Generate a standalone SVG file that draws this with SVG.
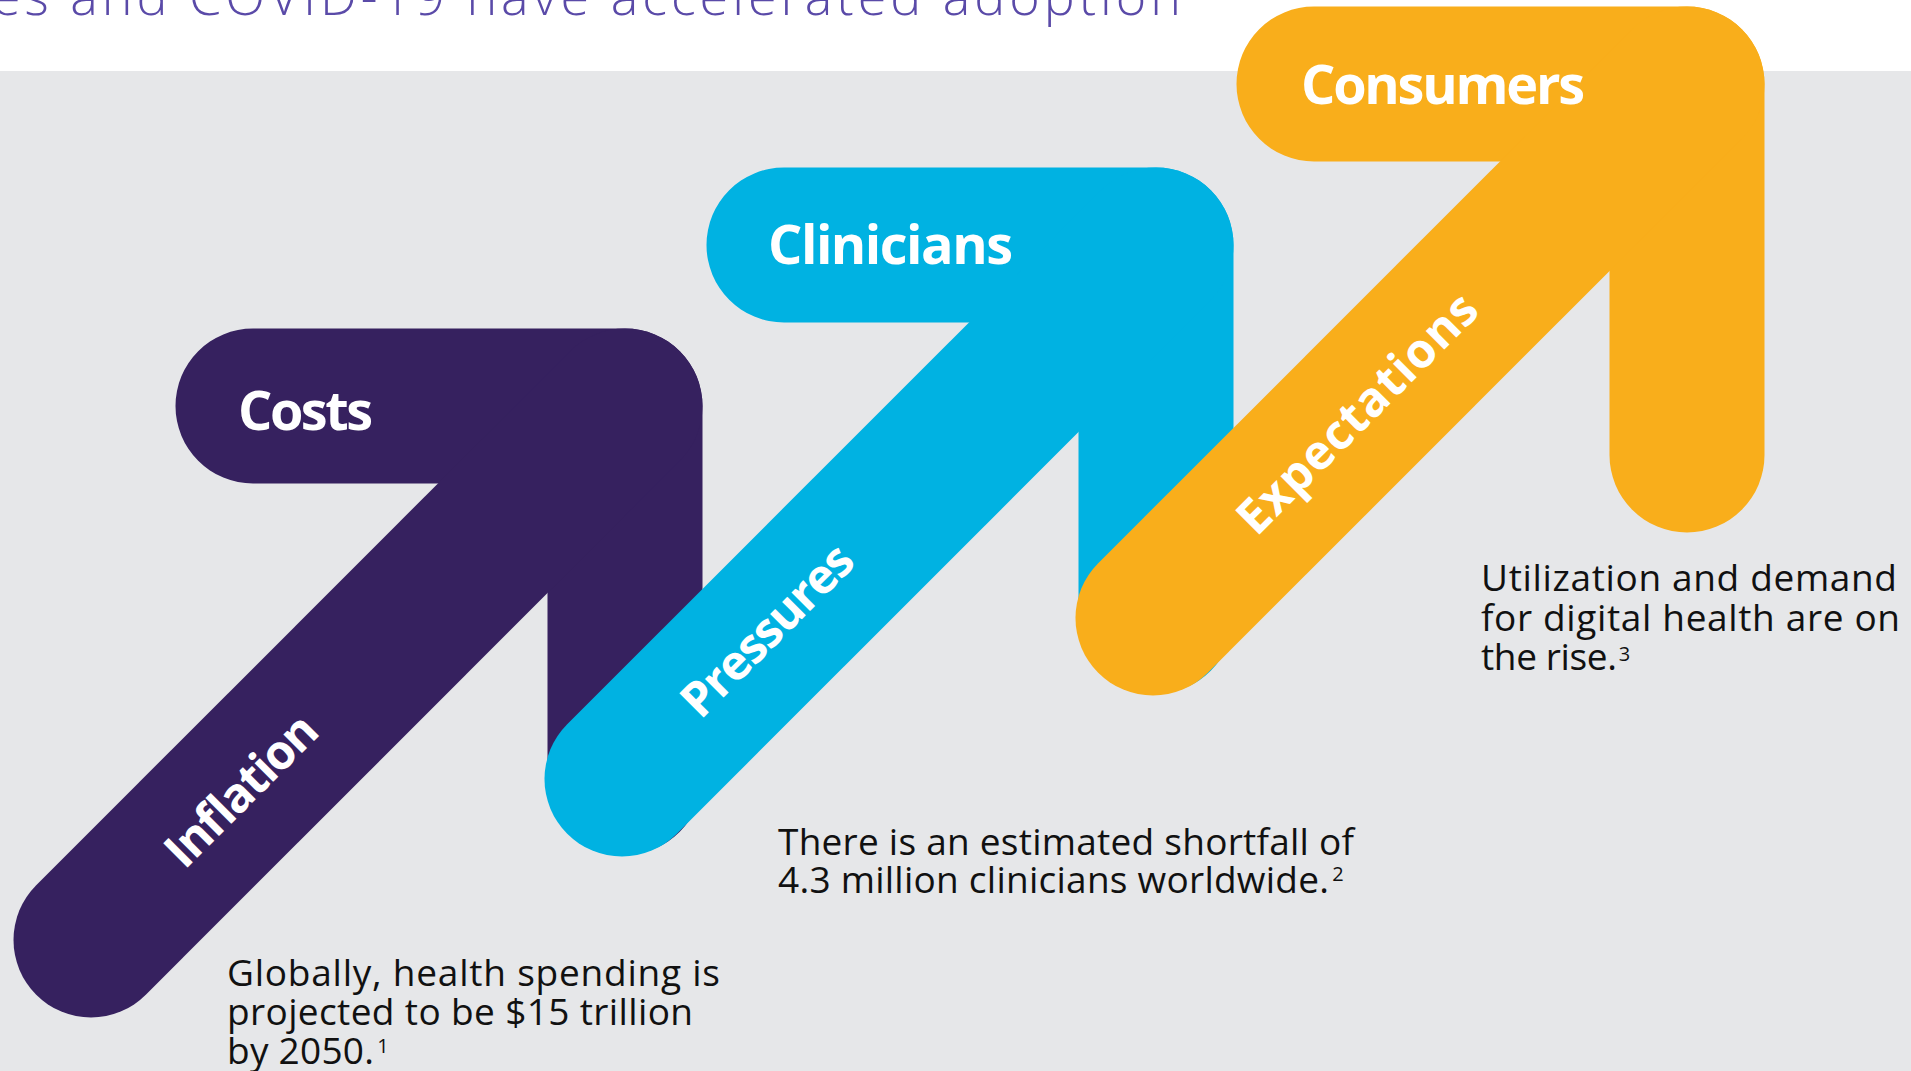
<svg xmlns="http://www.w3.org/2000/svg" width="1911" height="1071" viewBox="0 0 1911 1071">
  <style>
    .bar { fill: none; stroke-width: 155; stroke-linecap: round; stroke-linejoin: round; }
    .purple { stroke: #36215F; }
    .blue { stroke: #00B2E2; }
    .orange { stroke: #F9AE1B; }
    .label { font-family: "Open Sans", "Liberation Sans", sans-serif; font-weight: 700; font-size: 54px; fill: #FFFFFF; }
    .diag { font-family: "Open Sans", "Liberation Sans", sans-serif; font-weight: 700; font-size: 48px; fill: #FFFFFF; text-anchor: middle; }
    .body { font-family: "Open Sans", "Liberation Sans", sans-serif; font-weight: 400; font-size: 37px; fill: #111111; }
    .sup { font-size: 20px; }
    .title { font-family: "Open Sans", "Liberation Sans", sans-serif; font-weight: 300; font-size: 52px; fill: #5A4AA8; }
  </style>
  <rect x="0" y="0" width="1911" height="1071" fill="#FFFFFF"/>
  <rect x="0" y="71" width="1911" height="1000" fill="#E6E7E9"/>
  <text class="title" x="-8" y="15" textLength="1189" lengthAdjust="spacing">es and COVID-19 have accelerated adoption</text>

  <g id="connectors"/>

  <g id="node-costs">
    <path class="bar purple" d="M253 406 H625 V777"/>
    <path class="bar purple" d="M625 406 L91 940"/>
    <text class="label" x="238" y="430" textLength="135" lengthAdjust="spacing">Costs</text>
    <text class="diag" transform="translate(253 802) rotate(-45)" x="0" y="0" textLength="194" lengthAdjust="spacing">Inflation</text>
    <text class="body" x="227" y="986" textLength="493" lengthAdjust="spacing">Globally, health spending is</text>
    <text class="body" x="227" y="1025" textLength="466" lengthAdjust="spacing">projected to be $15 trillion</text>
    <text class="body" x="227" y="1064"><tspan textLength="147" lengthAdjust="spacing">by 2050.</tspan><tspan class="sup" dx="3" dy="-11">1</tspan></text>
  </g>

  <g id="node-clinicians">
    <path class="bar blue" d="M784 245 H1156 V616"/>
    <path class="bar blue" d="M1156 245 L622 779"/>
    <text class="label" x="768" y="264" textLength="245" lengthAdjust="spacing">Clinicians</text>
    <text class="diag" transform="translate(779 642) rotate(-45)" x="0" y="0" textLength="222" lengthAdjust="spacing">Pressures</text>
    <text class="body" x="778" y="855" textLength="576" lengthAdjust="spacing">There is an estimated shortfall of</text>
    <text class="body" x="778" y="893"><tspan textLength="551" lengthAdjust="spacing">4.3 million clinicians worldwide.</tspan><tspan class="sup" dx="3" dy="-12">2</tspan></text>
  </g>

  <g id="node-consumers">
    <path class="bar orange" d="M1314 84 H1687 V455"/>
    <path class="bar orange" d="M1687 84 L1153 618"/>
    <text class="label" x="1301" y="104" textLength="284" lengthAdjust="spacing">Consumers</text>
    <text class="diag" transform="translate(1369 425) rotate(-45)" x="0" y="0" textLength="318" lengthAdjust="spacing">Expectations</text>
    <text class="body" x="1481" y="591" textLength="416" lengthAdjust="spacing">Utilization and demand</text>
    <text class="body" x="1481" y="631" textLength="419" lengthAdjust="spacing">for digital health are on</text>
    <text class="body" x="1481" y="670"><tspan textLength="136" lengthAdjust="spacing">the rise.</tspan><tspan class="sup" dx="2" dy="-9">3</tspan></text>
  </g>
</svg>
